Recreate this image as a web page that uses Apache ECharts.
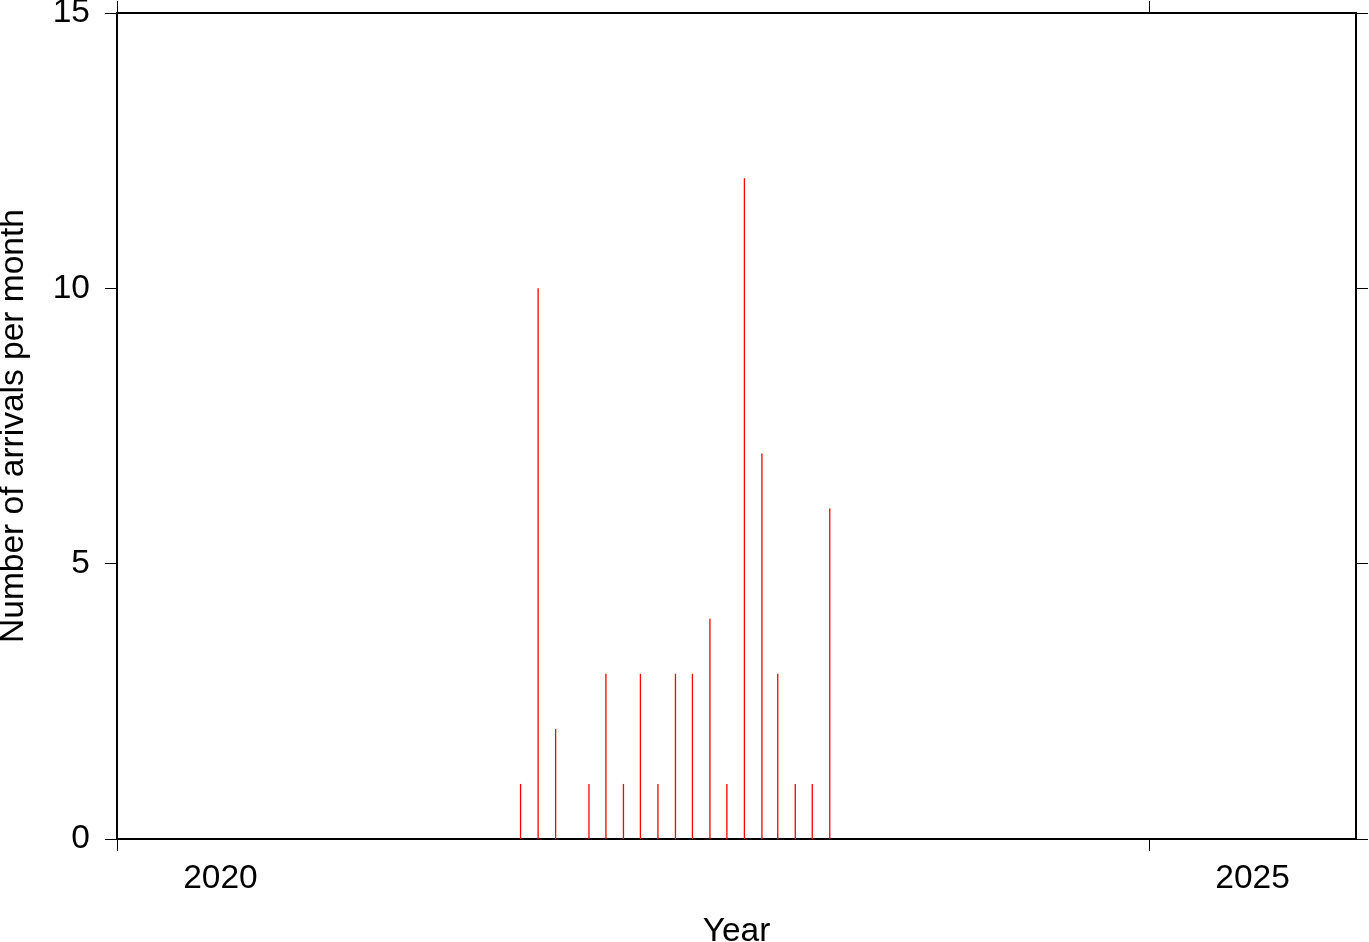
<!DOCTYPE html>
<html>
<head>
<meta charset="utf-8">
<script src="https://cdn.jsdelivr.net/npm/echarts@6/dist/echarts.min.js"></script>
<style>html,body{margin:0;padding:0;background:#fff}#c{width:1369px;height:942px}</style>
</head>
<body>
<div id="c"></div>
<script>
const months = ['2021-12','2022-01','2022-02','2022-04','2022-05','2022-06','2022-07','2022-08','2022-09','2022-10','2022-11','2022-12','2023-01','2023-02','2023-03','2023-04','2023-05','2023-06'];
const arrivals = [1,10,2,1,3,1,3,1,3,3,4,1,12,7,3,1,1,6];
const yTicks = [0,5,10,15];
const yearTicks = ['2020-01-01','2025-01-01'];
const yearLabelPos = ['2020-07-02','2025-07-02'];
const xMin = '2020-01-01', xMax = '2026-01-01';

const ts = s => echarts.time.parse(s).getTime();
const data = months.map((m,i)=>[ts(m+'-15'), arrivals[i]]);
const FONT = 'Liberation Sans, Helvetica, Arial, sans-serif';
const FS = 33.5;

const chart = echarts.init(document.getElementById('c'), null, {renderer:'canvas'});
const tickStyle = {show:true, inside:false, length:12, lineStyle:{color:'#000', width:1}};
const noLine = {show:false, onZero:false};
chart.setOption({
  animation:false,
  backgroundColor:'#fff',
  grid:{left:117, right:13, top:13, bottom:103, containLabel:false, outerBoundsMode:'none', show:true, borderColor:'#000', borderWidth:2, backgroundColor:'transparent'},
  xAxis:[{
    type:'value', min:ts(xMin), max:ts(xMax), position:'bottom', scale:true,
    axisLine:noLine,
    axisTick:Object.assign({customValues:yearTicks.map(ts)}, tickStyle),
    axisLabel:{show:true, customValues:yearLabelPos.map(ts), formatter:v=>String(new Date(v).getFullYear()), color:'#000', fontSize:FS, fontFamily:FONT, margin:23, hideOverlap:false, showMinLabel:true, showMaxLabel:true},
    splitLine:{show:false},
    name:'Year', nameLocation:'middle', nameGap:76, nameTextStyle:{color:'#000', fontSize:FS, fontFamily:FONT}
  },{
    type:'value', min:ts(xMin), max:ts(xMax), position:'top', scale:true,
    axisLine:noLine,
    axisTick:Object.assign({customValues:yearTicks.map(ts)}, tickStyle),
    axisLabel:{show:false},
    splitLine:{show:false}
  }],
  yAxis:[{
    type:'value', min:0, max:15, interval:5, position:'left',
    axisLine:noLine,
    axisTick:tickStyle,
    axisLabel:{color:'#000', fontSize:FS, fontFamily:FONT, margin:27, formatter:v=>yTicks.includes(v)?String(v):''},
    splitLine:{show:false},
    name:'Number of arrivals per month', nameLocation:'middle', nameGap:86, nameTextStyle:{color:'#000', fontSize:FS, fontFamily:FONT}
  },{
    type:'value', min:0, max:15, interval:5, position:'right',
    axisLine:noLine,
    axisTick:tickStyle,
    axisLabel:{show:false},
    splitLine:{show:false}
  }],
  series:[{
    type:'bar', xAxisIndex:0, yAxisIndex:0, data:data, barWidth:1.3,
    itemStyle:{color:'#ff0000'}
  }]
});
</script>
</body>
</html>
